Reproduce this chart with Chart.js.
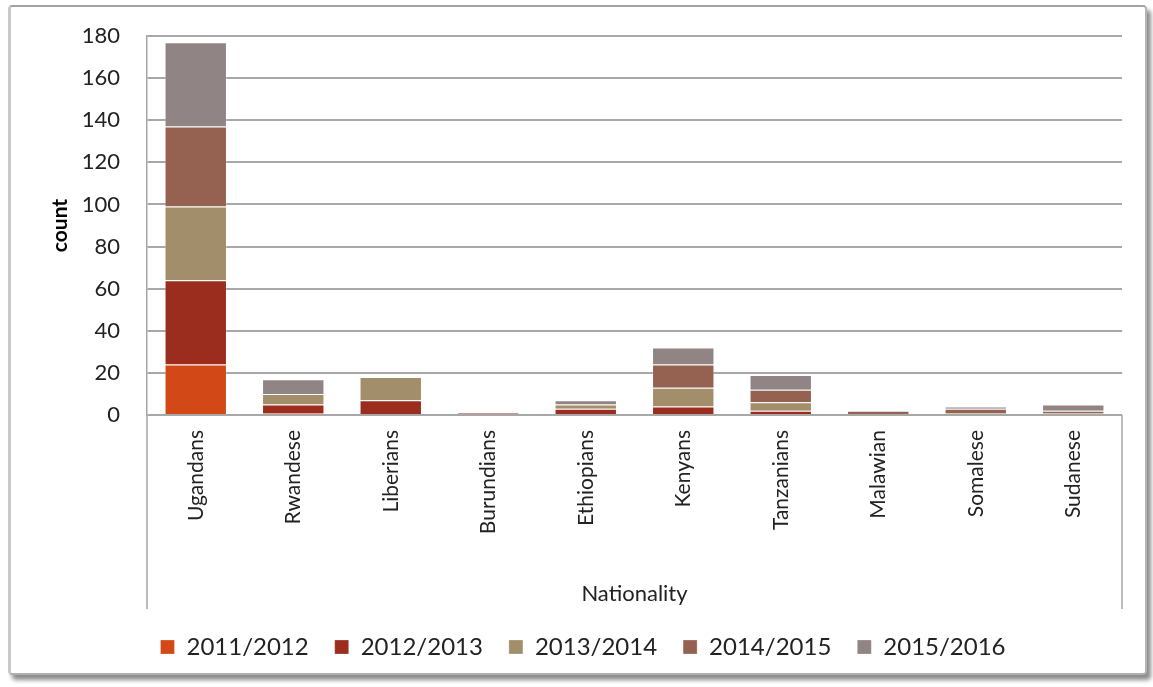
<!DOCTYPE html>
<html>
<head>
<meta charset="utf-8">
<script src="https://cdn.jsdelivr.net/npm/chart.js@4.4.1/dist/chart.umd.min.js"></script>
<style>
  html, body { margin: 0; padding: 0; background: #fff; }
  #frame {
    position: absolute; left: 8px; top: 5px; width: 1134px; height: 666px;
    border-top: 2px solid #a3a3a3; border-left: 3px solid #c9c9c9;
    border-right: 2px solid #b5b5b5; border-bottom: 2px solid #b0b0b0;
    border-radius: 4px;
    box-shadow: 4px 5px 4px rgba(0,0,0,0.45);
    background: #fff;
  }
  #wrap { position: absolute; left: 0; top: 0; width: 1153px; height: 687px; }
</style>
</head>
<body>
<div id="frame"></div>
<div id="wrap"><canvas id="myChart" width="1153" height="687"></canvas></div>
<script>
const nationalities = ['Ugandans', 'Rwandese', 'Liberians', 'Burundians', 'Ethiopians',
    'Kenyans', 'Tanzanians', 'Malawian', 'Somalese', 'Sudanese'];
const years = ['2011/2012', '2012/2013', '2013/2014', '2014/2015', '2015/2016'];

// counts per nationality for each academic year
const y2011 = [24, 1, 0, 0, 0, 0, 0, 0, 0, 0];
const y2012 = [40, 4, 7, 1, 3, 4, 2, 0, 0, 0];
const y2013 = [35, 5, 11, 0, 2, 9, 4, 0, 1, 1];
const y2014 = [38, 0, 0, 0, 0, 11, 6, 2, 2, 1];
const y2015 = [40, 7, 0, 0, 2, 8, 7, 0, 1, 3];

const colors = ['#d34817', '#9b2d1f', '#a28e6a', '#956251', '#918485'];
const yTicks = [0, 20, 40, 60, 80, 100, 120, 140, 160, 180];

const font = 'Lato, "Open Sans", sans-serif';

// extend the axis frame lines down through the category label area
const frameLines = {
    id: 'frameLines',
    afterDraw(chart) {
        const a = chart.chartArea;
        const c = chart.ctx;
        c.save();
        c.strokeStyle = '#a6a6a6';
        c.lineWidth = 1.5;
        c.beginPath();
        c.moveTo(a.left, a.bottom);
        c.lineTo(a.left, 609);
        c.moveTo(a.right, a.bottom);
        c.lineTo(a.right, 609);
        c.stroke();
        c.restore();
    }
};

const series = [y2011, y2012, y2013, y2014, y2015];
const datasets = [];
for (let i = 0; i < years.length; i++) {
    datasets.push({
        label: years[i],
        data: series[i],
        backgroundColor: colors[i],
        borderColor: 'rgba(255,255,255,0.25)',
        borderWidth: 1,
        barPercentage: 0.64,
        categoryPercentage: 1
    });
}

new Chart(document.getElementById('myChart'), {
    type: 'bar',
    data: { labels: nationalities, datasets: datasets },
    plugins: [frameLines],
    options: {
        responsive: false,
        animation: false,
        layout: { padding: { left: 44, right: 31, top: 36, bottom: 18 } },
        plugins: {
            tooltip: { enabled: false },
            legend: {
                position: 'bottom',
                labels: {
                    boxWidth: 14, boxHeight: 14, padding: 26,
                    color: '#222', font: { family: font, size: 24 }
                }
            }
        },
        scales: {
            x: {
                stacked: true,
                afterFit(scale) { scale.height = 194; },
                grid: { display: false },
                border: { display: false },
                ticks: {
                    minRotation: 90, maxRotation: 90, padding: 7,
                    color: '#222', font: { family: font, size: 21 }
                },
                title: {
                    display: true, text: 'Nationality', color: '#222',
                    font: { family: font, size: 22 }, padding: { top: 4, bottom: 2 }
                }
            },
            y: {
                stacked: true,
                min: 0, max: 180,
                afterFit(scale) { scale.width = 103; },
                afterBuildTicks(scale) { scale.ticks = yTicks.map(v => ({ value: v })); },
                grid: { color: '#a8a8a8', lineWidth: 2, tickLength: 23, tickColor: 'rgba(0,0,0,0)' },
                border: { display: true, color: '#a6a6a6', width: 1.5 },
                ticks: { padding: 4, color: '#222', font: { family: font, size: 22 } },
                title: {
                    display: true, text: 'count', color: '#000',
                    font: { family: font, size: 21, weight: 'bold' }, padding: { top: 4, bottom: 10 }
                }
            }
        }
    }
});
</script>
</body>
</html>
